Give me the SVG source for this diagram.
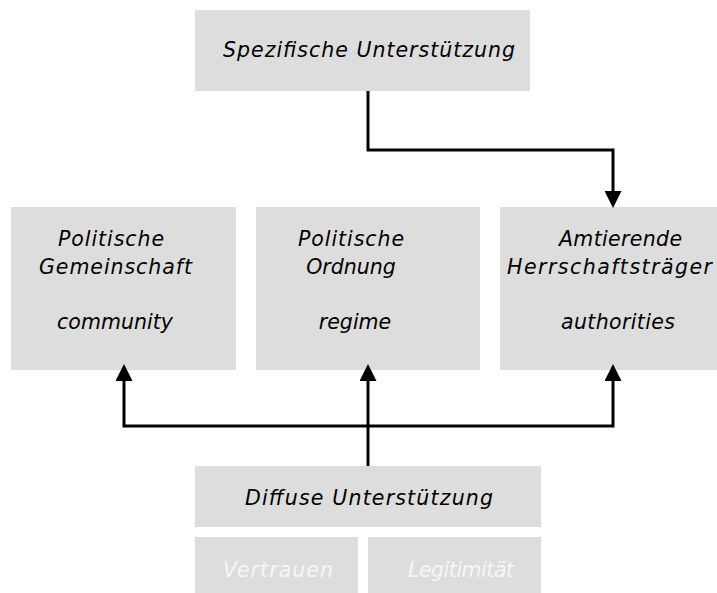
<svg xmlns="http://www.w3.org/2000/svg" width="717" height="593" viewBox="0 0 717 593">
<style>
.box{fill:#dddddd}
.t{font-family:"DejaVu Sans","Verdana",sans-serif;font-style:italic;font-size:20.5px;fill:#000}
.m{text-anchor:middle}
.w{fill:#f6f6f6}
.c{fill:none;stroke:#000;stroke-width:3}
</style>
<defs>
<marker id="ah" markerUnits="userSpaceOnUse" markerWidth="17" markerHeight="17" refX="0" refY="8" orient="auto-start-reverse" viewBox="0 0 16 16">
<path d="M0,0 L16,8 L0,16 z" fill="#000"/>
</marker>
</defs>
<rect width="717" height="593" fill="#fff"/>
<g id="spezifisch">
<rect class="box" x="195" y="10" width="335" height="81"/>
<text class="t" x="223" y="57" textLength="292" lengthAdjust="spacing">Spezifische Unterstützung</text>
</g>
<g id="gemeinschaft">
<rect class="box" x="11" y="207" width="225" height="163"/>
<text class="t" x="58" y="246" textLength="106" lengthAdjust="spacing">Politische</text>
<text class="t" x="39" y="274" textLength="153" lengthAdjust="spacing">Gemeinschaft</text>
<text class="t" x="57" y="329" textLength="116" lengthAdjust="spacing">community</text>
</g>
<g id="ordnung">
<rect class="box" x="256" y="207" width="224" height="163"/>
<text class="t" x="298" y="246" textLength="106" lengthAdjust="spacing">Politische</text>
<text class="t m" x="351" y="274">Ordnung</text>
<text class="t m" x="355" y="329">regime</text>
</g>
<g id="herrschaftstraeger">
<rect class="box" x="500" y="207" width="225" height="163"/>
<text class="t" x="559" y="246" textLength="123" lengthAdjust="spacing">Amtierende</text>
<text class="t" x="507" y="274" textLength="205" lengthAdjust="spacing">Herrschaftsträger</text>
<text class="t" x="561" y="329" textLength="114" lengthAdjust="spacing">authorities</text>
</g>
<g id="diffus">
<rect class="box" x="195" y="466" width="346" height="61"/>
<text class="t" x="245" y="505" textLength="248" lengthAdjust="spacing">Diffuse Unterstützung</text>
</g>
<g id="vertrauen">
<rect class="box" x="195" y="537" width="163" height="60"/>
<text class="t w" x="223" y="577" textLength="110" lengthAdjust="spacing">Vertrauen</text>
</g>
<g id="legitimitaet">
<rect class="box" x="368" y="537" width="173" height="60"/>
<text class="t w" x="408" y="577" textLength="106" lengthAdjust="spacing">Legitimität</text>
</g>
<g id="connectors">
<path class="c" d="M368,91 V150 H613 V191" marker-end="url(#ah)"/>
<path class="c" d="M368,466 V381" marker-end="url(#ah)"/>
<path class="c" d="M124,381 V426 H613 V381" marker-start="url(#ah)" marker-end="url(#ah)"/>
</g>
</svg>
